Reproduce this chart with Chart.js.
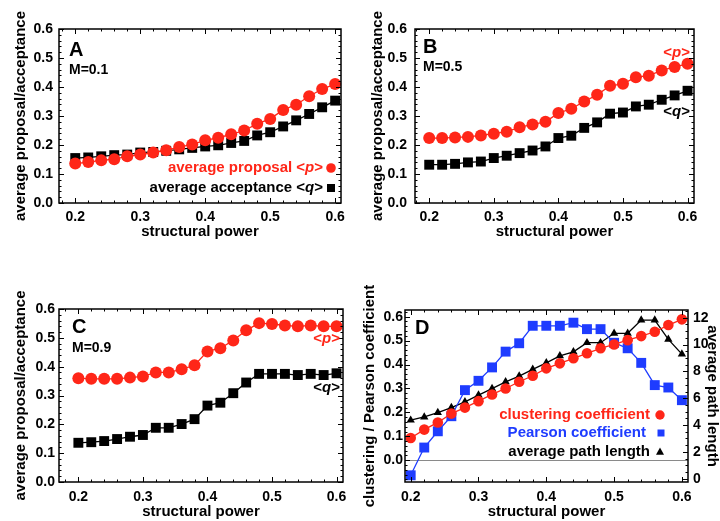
<!DOCTYPE html>
<html lang="en">
<head>
    <meta charset="UTF-8">
    <title>Proposal / acceptance vs structural power</title>
    <script src="https://cdn.jsdelivr.net/npm/chart.js"></script>
    <style>
        * { margin: 0; padding: 0; box-sizing: border-box; }
        body { background: #fff; width: 720px; height: 521px; position: relative; overflow: hidden; }
        .panel { position: absolute; }
        .panel canvas { display: block; }
    </style>
</head>
<body>
    <div class="panel" style="left:0;top:0"><canvas id="chartA" width="360" height="260"></canvas></div>
    <div class="panel" style="left:360px;top:0"><canvas id="chartB" width="360" height="260"></canvas></div>
    <div class="panel" style="left:0;top:260px"><canvas id="chartC" width="360" height="261"></canvas></div>
    <div class="panel" style="left:360px;top:260px"><canvas id="chartD" width="360" height="261"></canvas></div>

    <script>
        // ---- data ----
        const power = [0.20, 0.22, 0.24, 0.26, 0.28, 0.30, 0.32, 0.34, 0.36, 0.38, 0.40,
                       0.42, 0.44, 0.46, 0.48, 0.50, 0.52, 0.54, 0.56, 0.58, 0.60];

        // panel A, M=0.1
        const proposalA   = [0.136, 0.141, 0.147, 0.151, 0.161, 0.167, 0.174, 0.182, 0.193, 0.202, 0.216,
                             0.225, 0.237, 0.250, 0.273, 0.290, 0.321, 0.339, 0.368, 0.393, 0.410];
        const acceptanceA = [0.155, 0.157, 0.161, 0.165, 0.167, 0.174, 0.176, 0.180, 0.185, 0.190, 0.195,
                             0.199, 0.207, 0.214, 0.233, 0.244, 0.264, 0.285, 0.307, 0.330, 0.353];

        // panel B, M=0.5
        const proposalB   = [0.224, 0.224, 0.226, 0.228, 0.233, 0.239, 0.246, 0.261, 0.271, 0.280, 0.310,
                             0.325, 0.350, 0.373, 0.404, 0.411, 0.434, 0.439, 0.457, 0.469, 0.480];
        const acceptanceB = [0.132, 0.132, 0.135, 0.140, 0.143, 0.155, 0.163, 0.172, 0.181, 0.195, 0.224,
                             0.232, 0.259, 0.278, 0.308, 0.312, 0.333, 0.339, 0.356, 0.371, 0.387];

        // panel C, M=0.9
        const proposalC   = [0.360, 0.358, 0.358, 0.358, 0.362, 0.366, 0.380, 0.380, 0.391, 0.405, 0.453,
                             0.464, 0.491, 0.526, 0.551, 0.548, 0.543, 0.540, 0.543, 0.540, 0.540];
        const acceptanceC = [0.136, 0.138, 0.142, 0.149, 0.157, 0.163, 0.188, 0.188, 0.201, 0.218, 0.265,
                             0.275, 0.308, 0.345, 0.375, 0.375, 0.375, 0.371, 0.375, 0.371, 0.377];

        // panel D, network measures
        const clusteringD = [0.093, 0.128, 0.158, 0.195, 0.220, 0.247, 0.275, 0.300, 0.328, 0.353, 0.384,
                             0.405, 0.426, 0.447, 0.468, 0.484, 0.502, 0.519, 0.537, 0.565, 0.589];
        const pearsonD    = [-0.063, 0.053, 0.121, 0.184, 0.293, 0.332, 0.388, 0.454, 0.489, 0.562, 0.562,
                             0.562, 0.575, 0.548, 0.548, 0.491, 0.468, 0.407, 0.314, 0.304, 0.251];
        const pathLengthD = [4.36, 4.60, 4.93, 5.30, 5.73, 6.23, 6.72, 7.22, 7.65, 8.15, 8.64,
                             9.16, 9.46, 10.14, 10.14, 10.84, 10.84, 11.83, 11.83, 10.39, 9.29];

        // tick labels
        const xTicks = [0.2, 0.3, 0.4, 0.5, 0.6];
        const yTicks = [0.0, 0.1, 0.2, 0.3, 0.4, 0.5, 0.6];
        const pathTicks = [0, 2, 4, 6, 8, 10, 12];

        // ---- styling ----
        const FONT = "'Liberation Sans', Arial, Helvetica, sans-serif";
        const RED = '#ff2618';
        const BLUE = '#1e3cff';
        Chart.defaults.font.family = FONT;
        Chart.defaults.font.weight = 'bold';
        Chart.defaults.color = '#000';
        Chart.defaults.animation = false;

        function series(ys) {
            return power.map((x, i) => ({ x: x, y: ys[i] }));
        }

        function fixedTicks(values) {
            return scale => { scale.ticks = values.map(v => ({ value: v })); };
        }

        function marker(ctx, style, x, y, size, color) {
            ctx.fillStyle = color;
            ctx.beginPath();
            if (style === 'circle') {
                ctx.arc(x, y, size, 0, Math.PI * 2);
            } else if (style === 'rect') {
                ctx.rect(x - size, y - size, size * 2, size * 2);
            } else {
                ctx.moveTo(x, y - size * 1.1);
                ctx.lineTo(x + size, y + size * 0.7);
                ctx.lineTo(x - size, y + size * 0.7);
                ctx.closePath();
            }
            ctx.fill();
        }

        // text with an italic part, optional legend marker
        function drawNote(ctx, n) {
            const parts = n.parts.map(p => typeof p === 'string' ? { t: p } : p);
            const fontOf = p => (p.italic ? 'italic ' : '') + 'bold ' + n.size + 'px ' + FONT;
            let w = 0;
            parts.forEach(p => { ctx.font = fontOf(p); p.w = ctx.measureText(p.t).width; w += p.w; });
            let x = n.align === 'right' ? n.x - w : n.x;
            ctx.fillStyle = n.color || '#000';
            ctx.textBaseline = 'middle';
            ctx.textAlign = 'left';
            parts.forEach(p => { ctx.font = fontOf(p); ctx.fillText(p.t, x, n.y); x += p.w; });
            if (n.marker) marker(ctx, n.marker, n.mx, n.y, n.ms, n.color || '#000');
        }

        // Mathematica-like frame with inward ticks, plus text notes
        const decor = {
            id: 'decor',
            afterDatasetsDraw(chart, args, o) {
                const { ctx, chartArea: a, scales } = chart;
                ctx.save();
                ctx.strokeStyle = '#000';
                ctx.lineWidth = 1;
                const marks = (scale, step, major, side) => {
                    const start = Math.ceil(scale.min / step - 1e-6);
                    const end = Math.floor(scale.max / step + 1e-6);
                    for (let k = start; k <= end; k++) {
                        const v = k * step;
                        const isMajor = major.some(m => Math.abs(m - v) < step / 4);
                        const len = isMajor ? 5 : 2.5;
                        const p = Math.round(scale.getPixelForValue(v)) + 0.5;
                        ctx.beginPath();
                        if (side === 'bottom') { ctx.moveTo(p, a.bottom); ctx.lineTo(p, a.bottom - len); }
                        if (side === 'top') { ctx.moveTo(p, a.top); ctx.lineTo(p, a.top + len); }
                        if (side === 'left') { ctx.moveTo(a.left, p); ctx.lineTo(a.left + len, p); }
                        if (side === 'right') { ctx.moveTo(a.right, p); ctx.lineTo(a.right - len, p); }
                        ctx.stroke();
                    }
                };
                marks(scales.x, 0.02, xTicks, 'bottom');
                marks(scales.x, 0.02, xTicks, 'top');
                marks(scales.y, 0.02, yTicks, 'left');
                if (scales.y2) marks(scales.y2, 0.5, pathTicks, 'right');
                else marks(scales.y, 0.02, yTicks, 'right');

                ctx.lineWidth = 1.5;
                ctx.strokeRect(a.left, a.top, a.right - a.left, a.bottom - a.top);

                (o.notes || []).forEach(n => drawNote(ctx, n));
                ctx.restore();
            }
        };

        function lineSet(label, data, color, style, radius, axis) {
            return {
                label: label,
                data: data,
                yAxisID: axis || 'y',
                borderColor: color,
                backgroundColor: color,
                pointBackgroundColor: color,
                pointBorderColor: color,
                pointBorderWidth: 0,
                pointStyle: style,
                pointRadius: radius,
                borderWidth: 1.3,
                tension: 0,
                clip: false
            };
        }

        const noGrid = { display: false, drawTicks: false };

        function xScale(min, max, labelPad, titlePad) {
            return {
                type: 'linear',
                min: min,
                max: max,
                afterBuildTicks: fixedTicks(xTicks),
                grid: noGrid,
                border: { display: false },
                ticks: { padding: labelPad, font: { size: 14, weight: 'bold' },
                         callback: v => v.toFixed(1) },
                title: { display: true, text: 'structural power', font: { size: 15, weight: 'bold' },
                         padding: { top: 0, bottom: titlePad } }
            };
        }

        function yScale(text, labelPad, titlePad) {
            return {
                type: 'linear',
                min: 0,
                max: 0.6,
                afterBuildTicks: fixedTicks(yTicks),
                grid: noGrid,
                border: { display: false },
                ticks: { padding: labelPad, font: { size: 14, weight: 'bold' },
                         callback: v => v.toFixed(1) },
                title: { display: true, text: text, font: { size: 15, weight: 'bold' },
                         padding: { top: titlePad, bottom: 0 } }
            };
        }

        // panel layout: box = [chart-area left, right, top, bottom] inside its canvas
        function makePanel(id, box, datasets, scales, notes) {
            const canvas = document.getElementById(id);
            const W = canvas.width, H = canvas.height;
            scales.x.afterFit = s => { s.height = H - box[3]; };
            scales.y.afterFit = s => { s.width = box[0]; };
            if (scales.y2) scales.y2.afterFit = s => { s.width = W - box[1]; };
            return new Chart(canvas, {
                type: 'line',
                data: { datasets: datasets },
                options: {
                    responsive: false,
                    layout: { padding: { left: 0, right: scales.y2 ? 0 : W - box[1], top: box[2], bottom: 0 } },
                    plugins: { legend: { display: false }, tooltip: { enabled: false }, decor: { notes: notes } },
                    scales: scales
                },
                plugins: [decor]
            });
        }

        const ptitle = 'average proposal/acceptance';

        makePanel('chartA', [59, 341, 29, 203],
            [lineSet('average proposal <p>', series(proposalA), RED, 'circle', 6),
             lineSet('average acceptance <q>', series(acceptanceA), '#000', 'rect', 7)],
            { x: xScale(0.175, 0.609, 6, 19), y: yScale(ptitle, 6, 12) },
            [{ parts: ['A'], x: 69, y: 50, size: 20 },
             { parts: ['M=0.1'], x: 69, y: 70, size: 14 },
             { parts: ['average proposal <', { t: 'p', italic: true }, '>'], x: 323, y: 168, size: 15,
               align: 'right', color: RED, marker: 'circle', mx: 331, ms: 4.8 },
             { parts: ['average acceptance <', { t: 'q', italic: true }, '>'], x: 323, y: 188, size: 15,
               align: 'right', color: '#000', marker: 'rect', mx: 331, ms: 4 }]);

        makePanel('chartB', [55, 334, 29, 203],
            [lineSet('<p>', series(proposalB), RED, 'circle', 6),
             lineSet('<q>', series(acceptanceB), '#000', 'rect', 7)],
            { x: xScale(0.178, 0.61, 6, 19), y: yScale(ptitle, 8, 9) },
            [{ parts: ['B'], x: 63, y: 47, size: 20 },
             { parts: ['M=0.5'], x: 63, y: 67, size: 14 },
             { parts: ['<', { t: 'p', italic: true }, '>'], x: 330, y: 53, size: 15, align: 'right', color: RED },
             { parts: ['<', { t: 'q', italic: true }, '>'], x: 330, y: 112, size: 15, align: 'right' }]);

        makePanel('chartC', [59, 343, 49, 222],
            [lineSet('<p>', series(proposalC), RED, 'circle', 6),
             lineSet('<q>', series(acceptanceC), '#000', 'rect', 7)],
            { x: xScale(0.170, 0.61, 7, 0), y: yScale(ptitle, 4, 12) },
            [{ parts: ['C'], x: 72, y: 67, size: 20 },
             { parts: ['M=0.9'], x: 72, y: 88, size: 14 },
             { parts: ['<', { t: 'p', italic: true }, '>'], x: 340, y: 79, size: 15, align: 'right', color: RED },
             { parts: ['<', { t: 'q', italic: true }, '>'], x: 340, y: 128, size: 15, align: 'right' }]);

        const yD = yScale('clustering / Pearson coefficient', 2, 1);
        yD.min = -0.091;
        yD.max = 0.628;
        yD.grid = { display: true, drawTicks: false, lineWidth: 1,
                    color: c => (c.tick && c.tick.value === 0 ? '#8a8a8a' : 'rgba(0,0,0,0)') };
        const y2D = {
            type: 'linear',
            position: 'right',
            min: -0.25,
            max: 12.58,
            afterBuildTicks: fixedTicks(pathTicks),
            grid: noGrid,
            border: { display: false },
            ticks: { padding: 5, font: { size: 14, weight: 'bold' } },
            title: { display: true, text: 'average path length', font: { size: 15, weight: 'bold', lineHeight: 1 },
                     padding: { top: 0, bottom: 0 } }
        };

        makePanel('chartD', [45, 328, 50, 222],
            [lineSet('clustering coefficient', series(clusteringD), RED, 'circle', 5.3),
             lineSet('Pearson coefficient', series(pearsonD), BLUE, 'rect', 7),
             lineSet('average path length', series(pathLengthD), '#000', 'triangle', 4.8, 'y2')],
            { x: xScale(0.1916, 0.609, 7, 0), y: yD, y2: y2D },
            [{ parts: ['D'], x: 55, y: 68, size: 20 },
             { parts: ['clustering coefficient'], x: 290, y: 155, size: 15, align: 'right', color: RED,
               marker: 'circle', mx: 300, ms: 4.7 },
             { parts: ['Pearson coefficient'], x: 286, y: 173, size: 15, align: 'right', color: BLUE,
               marker: 'rect', mx: 301, ms: 3.5 },
             { parts: ['average path length'], x: 290, y: 192, size: 15, align: 'right', color: '#000',
               marker: 'triangle', mx: 300, ms: 4 }]);
    </script>
</body>
</html>
